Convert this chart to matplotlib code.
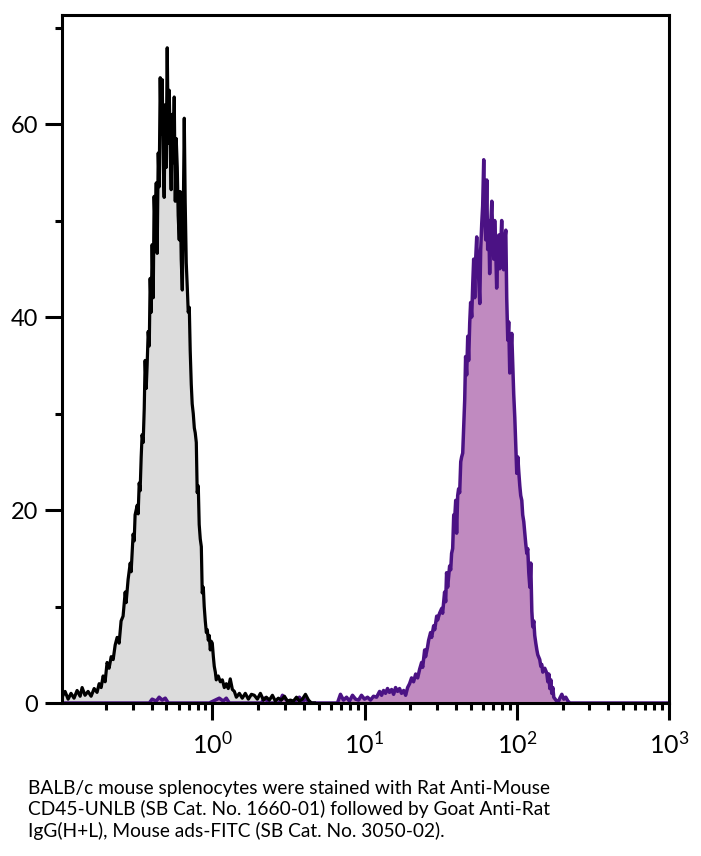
import numpy as np
import matplotlib
matplotlib.use("Agg")
import matplotlib.pyplot as plt
from matplotlib.ticker import LogLocator, LogFormatterMathtext, MultipleLocator, NullFormatter

# Unstained control (gray) - log10 intensity and event counts
gray_log_x = [
    -0.987, -0.967, -0.947, -0.928, -0.908, -0.888, -0.868, -0.855, -0.836, -0.816,
    -0.796, -0.776, -0.757, -0.743, -0.730, -0.717, -0.704, -0.691, -0.678, -0.664,
    -0.651, -0.638, -0.625, -0.612, -0.599, -0.586, -0.572, -0.566, -0.553, -0.539,
    -0.533, -0.520, -0.513, -0.507, -0.493, -0.487, -0.480, -0.474, -0.467, -0.461,
    -0.454, -0.447, -0.441, -0.434, -0.428, -0.421, -0.414, -0.408, -0.401, -0.395,
    -0.388, -0.382, -0.375, -0.368, -0.362, -0.355, -0.349, -0.342, -0.336, -0.329,
    -0.322, -0.316, -0.309, -0.303, -0.296, -0.289, -0.283, -0.276, -0.270, -0.263,
    -0.257, -0.250, -0.243, -0.237, -0.230, -0.224, -0.217, -0.211, -0.204, -0.197,
    -0.191, -0.184, -0.178, -0.171, -0.164, -0.158, -0.151, -0.145, -0.138, -0.132,
    -0.125, -0.118, -0.112, -0.105, -0.099, -0.092, -0.086, -0.079, -0.072, -0.066,
    -0.059, -0.053, -0.046, -0.039, -0.033, -0.026, -0.020, -0.013, -0.007, 0.000,
    0.007, 0.013, 0.020, 0.026, 0.039, 0.053, 0.066, 0.079, 0.092, 0.105,
    0.118, 0.132, 0.145, 0.158, 0.178, 0.197, 0.217, 0.237, 0.257, 0.276,
    0.296, 0.316, 0.336, 0.355, 0.375, 0.395, 0.414, 0.434, 0.454, 0.474,
    0.493, 0.513, 0.533, 0.553, 0.572, 0.592, 0.612, 0.632, 0.651, 0.671,
]
gray_counts = [
    0.6, 1.2, 0.4, 1.0, 0.5, 1.3, 0.7, 1.6, 0.8, 1.2,
    0.7, 1.5, 1.1, 2.0, 1.6, 2.8, 2.2, 4.2, 3.6, 4.8,
    4.5, 6.0, 6.8, 6.2, 8.5, 9.0, 11.5, 10.4, 12.8, 14.5,
    13.6, 17.5, 16.8, 19.5, 20.5, 19.6, 22.8, 22.0, 25.5, 27.8,
    27.0, 30.5, 35.5, 32.6, 35.0, 38.5, 37.0, 44.0, 40.5, 47.5,
    42.0, 52.5, 49.0, 53.9, 46.6, 57.0, 53.5, 64.8, 59.0, 64.6,
    56.0, 52.4, 62.0, 55.5, 67.9, 58.0, 63.5, 57.5, 53.2, 61.0,
    56.0, 62.8, 52.0, 58.5, 55.5, 50.5, 48.0, 53.0, 46.0, 42.8,
    50.0, 60.6, 52.0, 45.6, 43.0, 40.5, 41.0, 36.5, 33.0, 31.0,
    30.0, 28.5, 28.0, 27.0, 21.8, 22.5, 18.5, 17.0, 16.2, 11.4,
    12.0, 10.0, 8.5, 7.3, 7.6, 6.5, 7.0, 5.5, 6.4, 6.2,
    4.8, 3.8, 3.2, 2.4, 2.8, 2.2, 2.4, 1.6, 2.0, 1.5,
    2.5, 1.4, 1.2, 0.6, 1.0, 0.5, 1.0, 0.4, 0.9, 0.8,
    0.4, 1.0, 0.3, 0.6, 0.3, 0.8, 0.2, 0.5, 0.3, 0.7,
    0.2, 0.3, 0.2, 0.6, 0.2, 0.4, 0.9, 0.3, 0.0, 0.0,
]

# CD45 stained cells (purple)
purple_log_x = [
    -0.987, -0.414, -0.395, -0.368, -0.349, -0.329, -0.309, -0.289, -0.020, 0.046,
    0.072, 0.092, 0.112, 0.322, 0.342, 0.362, 0.375, 0.441, 0.461, 0.487,
    0.507, 0.553, 0.572, 0.592, 0.618, 0.638, 0.822, 0.842, 0.862, 0.882,
    0.901, 0.921, 0.941, 0.961, 0.980, 1.000, 1.020, 1.039, 1.059, 1.079,
    1.099, 1.112, 1.125, 1.138, 1.151, 1.164, 1.178, 1.191, 1.204, 1.217,
    1.230, 1.243, 1.257, 1.270, 1.283, 1.296, 1.309, 1.322, 1.336, 1.349,
    1.362, 1.375, 1.382, 1.395, 1.401, 1.414, 1.421, 1.434, 1.441, 1.454,
    1.461, 1.474, 1.480, 1.493, 1.507, 1.513, 1.526, 1.533, 1.539, 1.546,
    1.559, 1.566, 1.572, 1.579, 1.586, 1.592, 1.599, 1.605, 1.612, 1.618,
    1.625, 1.632, 1.638, 1.645, 1.651, 1.658, 1.664, 1.671, 1.678, 1.684,
    1.691, 1.697, 1.704, 1.711, 1.717, 1.724, 1.730, 1.737, 1.743, 1.750,
    1.757, 1.763, 1.770, 1.776, 1.783, 1.789, 1.796, 1.803, 1.809, 1.816,
    1.822, 1.829, 1.836, 1.842, 1.849, 1.855, 1.862, 1.868, 1.875, 1.882,
    1.888, 1.895, 1.901, 1.908, 1.914, 1.921, 1.928, 1.934, 1.941, 1.947,
    1.954, 1.961, 1.967, 1.974, 1.980, 1.987, 1.993, 2.000, 2.007, 2.013,
    2.020, 2.026, 2.033, 2.039, 2.046, 2.053, 2.059, 2.066, 2.072, 2.079,
    2.086, 2.092, 2.099, 2.105, 2.112, 2.118, 2.125, 2.132, 2.138, 2.151,
    2.158, 2.164, 2.171, 2.184, 2.197, 2.204, 2.211, 2.217, 2.224, 2.230,
    2.237, 2.243, 2.257, 2.270, 2.283, 2.296, 2.309, 2.322, 2.336, 2.349,
    3.000,
]
purple_counts = [
    0.0, 0.0, 0.4, 0.2, 0.6, 0.3, 0.5, 0.0, 0.0, 0.5,
    0.2, 0.5, 0.0, 0.0, 0.5, 0.2, 0.0, 0.0, 0.8, 0.3,
    0.0, 0.3, 0.6, 0.2, 0.4, 0.0, 0.0, 0.9, 0.3, 0.6,
    0.2, 0.8, 0.4, 0.3, 0.8, 0.4, 0.6, 0.3, 0.7, 0.6,
    1.2, 0.8, 1.3, 1.0, 1.5, 1.1, 1.4, 0.9, 1.6, 1.2,
    1.5, 1.0, 1.3, 0.8, 1.6, 2.0, 2.6, 2.2, 3.0, 2.6,
    3.5, 4.2, 3.7, 5.5, 4.8, 5.8, 6.5, 7.3, 6.8, 8.0,
    7.6, 9.0, 8.6, 9.3, 9.8, 9.3, 11.5, 10.5, 13.5, 12.0,
    14.2, 13.8, 15.5, 16.0, 19.5, 19.0, 21.0, 17.6, 21.5, 22.2,
    21.8, 25.0, 25.5, 25.9, 28.5, 31.4, 35.9, 34.0, 38.0, 35.5,
    39.4, 41.5, 40.0, 43.5, 46.0, 42.0, 46.0, 48.3, 45.5, 44.0,
    41.4, 47.0, 49.7, 51.5, 56.3, 50.5, 48.0, 54.2, 47.0, 50.0,
    44.5, 49.5, 52.0, 48.5, 46.0, 50.0, 47.0, 43.0, 46.5, 48.5,
    45.0, 47.5, 50.0, 46.0, 44.9, 48.0, 49.0, 42.0, 37.6, 39.5,
    34.2, 36.5, 38.3, 35.0, 32.0, 29.6, 27.0, 23.8, 25.5, 24.0,
    22.5, 21.5, 21.0, 19.5, 18.8, 17.6, 16.5, 15.5, 16.0, 13.5,
    12.0, 14.5, 9.5, 7.9, 8.5, 7.0, 6.2, 5.5, 5.0, 4.5,
    3.8, 4.0, 3.2, 3.6, 3.1, 2.2, 3.0, 1.5, 2.4, 1.0,
    1.6, 0.6, 0.3, 0.0, 0.5, 0.9, 0.4, 0.6, 0.2, 0.0,
    0.0,
]

caption = ("BALB/c mouse splenocytes were stained with Rat Anti-Mouse\n"
           "CD45-UNLB (SB Cat. No. 1660-01) followed by Goat Anti-Rat\n"
           "IgG(H+L), Mouse ads-FITC (SB Cat. No. 3050-02).")

plt.rcParams['font.family'] = ['Lato', 'DejaVu Sans']
plt.rcParams['mathtext.default'] = 'regular'

fig = plt.figure(figsize=(7.01, 8.56), dpi=100)
ax = fig.add_axes([62 / 701, 1 - 703 / 856, 607 / 701, 688 / 856])

gx = 10 ** np.array(gray_log_x)
px = 10 ** np.array(purple_log_x)

ax.fill_between(gx, 0, gray_counts, color='#dcdcdc', linewidth=0, zorder=1)
ax.fill_between(px, 0, purple_counts, color='#c08ac0', linewidth=0, zorder=1.2)
ax.plot(px, purple_counts, color='#4b1284', linewidth=2.5, zorder=1.5)
ax.plot(gx, gray_counts, color='black', linewidth=2.3, zorder=1.6)

ax.set_xscale('log')
ax.set_xlim(0.103, 1000)
ax.set_ylim(0, 71.3)

ax.xaxis.set_major_locator(LogLocator(base=10))
ax.xaxis.set_major_formatter(LogFormatterMathtext())
ax.xaxis.set_minor_locator(LogLocator(base=10, subs=np.arange(2, 10)))
ax.xaxis.set_minor_formatter(NullFormatter())
ax.yaxis.set_major_locator(MultipleLocator(20))
ax.yaxis.set_minor_locator(MultipleLocator(10))

for side in ['left', 'right', 'top', 'bottom']:
    ax.spines[side].set_linewidth(2.2)
    ax.spines[side].set_zorder(3)

ax.tick_params(which='major', direction='out', length=12, width=2.2,
               labelsize=17, top=False, right=False)
ax.tick_params(axis='y', which='major', pad=5)
ax.tick_params(axis='x', which='major', pad=8, labelsize=18)
ax.tick_params(which='minor', direction='out', length=5, width=2.2,
               top=False, right=False)

fig.text(28 / 701, 1 - 780 / 856, caption, ha='left', va='top',
         fontsize=13.8, linespacing=1.22)

fig.savefig('out.png', dpi=100)
